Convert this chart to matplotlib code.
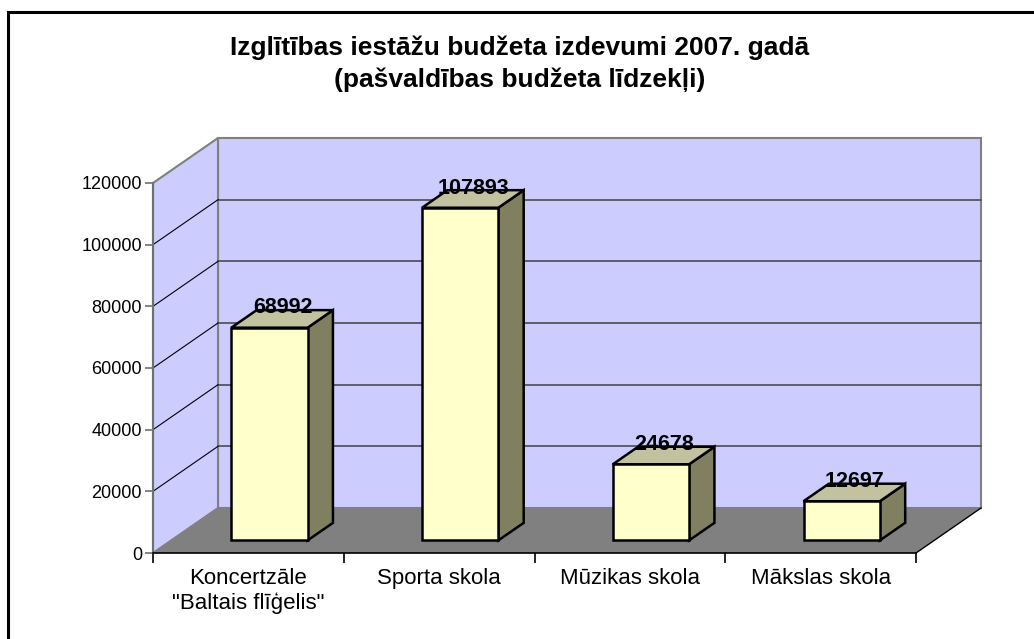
import matplotlib
matplotlib.use('Agg')
import matplotlib.pyplot as plt
from matplotlib.patches import Polygon, Rectangle

plt.rcParams['font.family'] = ['Liberation Sans', 'DejaVu Sans']

# data
categories = ['Koncertzāle\n"Baltais flīģelis"', 'Sporta skola', 'Mūzikas skola', 'Mākslas skola']
values = [68992, 107893, 24678, 12697]
yticks = [0, 20000, 40000, 60000, 80000, 100000, 120000]
title = 'Izglītības iestāžu budžeta izdevumi 2007. gadā\n(pašvaldības budžeta līdzekļi)'

W, H = 1034, 639
fig = plt.figure(figsize=(W / 100, H / 100), dpi=100)

# outer border (right and bottom edges lie outside the picture)
fig.patches.append(Rectangle((8 / W, -0.1), 1.2, 1 - 12 / H + 0.1, transform=fig.transFigure,
                             fill=False, edgecolor='black', linewidth=2.2))

# axes = front plane of the 3d box
ax = fig.add_axes([153 / W, (H - 553) / H, (916 - 153) / W, (553 - 183) / H])
ymax = 120000
n = len(categories)
ax.set_xlim(0, n)
ax.set_ylim(0, ymax)
ax.patch.set_visible(False)

# depth of the box in data units
dx = 65 / 190.75
dy = 45 * ymax / 370

wall = '#CCCCFF'
# floor
ax.add_patch(Polygon([(0, 0), (n, 0), (n + dx, dy), (dx, dy)], closed=True,
                     facecolor='#808080', edgecolor='none', zorder=1, clip_on=False))
ax.plot([n, n + dx], [0, dy], color='black', lw=1, zorder=1.5, clip_on=False)
# back wall
ax.add_patch(Polygon([(dx, dy), (n + dx, dy), (n + dx, ymax + dy), (dx, ymax + dy)], closed=True,
                     facecolor=wall, edgecolor='#808080', lw=1.5, zorder=1, clip_on=False))
# side wall
ax.add_patch(Polygon([(0, 0), (dx, dy), (dx, ymax + dy), (0, ymax)], closed=True,
                     facecolor=wall, edgecolor='#808080', lw=1.5, zorder=1, clip_on=False))

# gridlines
for v in yticks[1:-1]:
    ax.plot([dx, n + dx], [v + dy, v + dy], color='#555560', lw=1.3, zorder=2, clip_on=False)
    ax.plot([0, dx], [v, v + dy], color='black', lw=0.8, zorder=2, clip_on=False)

# bars
f = 0.28
d = 0.39
bw = 0.40
for i, v in enumerate(values):
    c = i + 0.515
    x0 = c - bw / 2
    x1 = c + bw / 2
    fx, fy = f * dx, f * dy
    bx, by = (f + d) * dx, (f + d) * dy
    front = [(x0 + fx, fy), (x1 + fx, fy), (x1 + fx, v + fy), (x0 + fx, v + fy)]
    side = [(x1 + fx, fy), (x1 + bx, by), (x1 + bx, v + by), (x1 + fx, v + fy)]
    top = [(x0 + fx, v + fy), (x1 + fx, v + fy), (x1 + bx, v + by), (x0 + bx, v + by)]
    for pts, col in [(side, '#808060'), (top, '#C2C2A0'), (front, '#FFFFCC')]:
        ax.add_patch(Polygon(pts, closed=True, facecolor=col, edgecolor='black',
                             lw=1.8, joinstyle='miter', zorder=3, clip_on=False))
    ax.text(c + 0.165, v + by + 700, str(v), ha='center', va='center',
            fontsize=15.5, fontweight='bold', zorder=4)

# axes lines and ticks
for s in ['top', 'right']:
    ax.spines[s].set_visible(False)
ax.spines['left'].set_color('#707070')
ax.spines['left'].set_linewidth(1.5)
ax.spines['bottom'].set_color('black')
ax.spines['bottom'].set_linewidth(1.2)
ax.spines['left'].set_zorder(5)
ax.spines['bottom'].set_zorder(5)

ax.set_yticks(yticks)
ax.set_yticklabels([str(t) for t in yticks], fontsize=13)
ax.tick_params(axis='y', length=6, width=1.2, color='#707070', pad=2)
ax.set_xticks(range(n + 1))
ax.set_xticklabels([])
ax.tick_params(axis='x', which='major', length=7, width=1.2, color='black')
ax.set_xticks([i + 0.5 for i in range(n)], minor=True)
ax.set_xticklabels(categories, minor=True, fontsize=16, linespacing=1.2)
ax.tick_params(axis='x', which='minor', length=0, pad=11)

fig.text(520 / W, 1 - 64 / H, title, ha='center', va='center', fontsize=19,
         fontweight='bold', linespacing=1.4)

fig.savefig('out.png', dpi=100)
